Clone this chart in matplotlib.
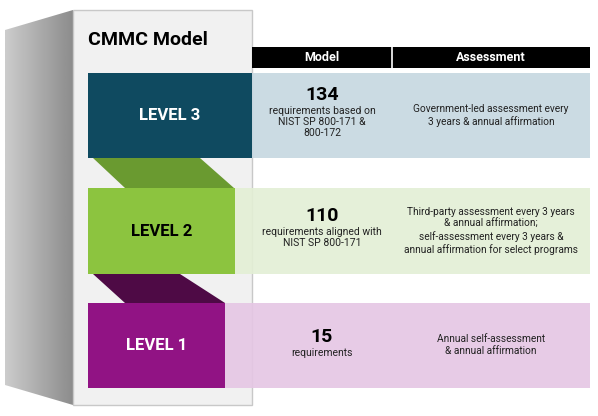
import matplotlib
matplotlib.use("Agg")
import matplotlib.pyplot as plt
from matplotlib.patches import Polygon, Rectangle
import numpy as np

levels = ["LEVEL 3", "LEVEL 2", "LEVEL 1"]
counts = ["134", "110", "15"]
model_desc = ["requirements based on\nNIST SP 800-171 &\n800-172",
              "requirements aligned with\nNIST SP 800-171",
              "requirements"]
assess_desc = ["Government-led assessment every\n3 years & annual affirmation",
               "Third-party assessment every 3 years\n& annual affirmation;\nself-assessment every 3 years &\nannual affirmation for select programs",
               "Annual self-assessment\n& annual affirmation"]
headers = ["Model", "Assessment"]
title = "CMMC Model"

box_colors = ["#0f4a60", "#8cc43f", "#911384"]
band_colors = ["#c6d7e0", "#e3efd5", "#e5c6e4"]
level_text = ["white", "black", "white"]
rows = [(73, 158, 252), (188, 274, 235), (303, 388, 225)]
connectors = [("#6a9a30", 158, 188, 93, 200, 125, 234),
              ("#4e0a45", 274, 303, 93, 180, 125, 225)]

FONT = ["Roboto", "DejaVu Sans"]

fig = plt.figure(figsize=(5.98, 4.16), dpi=100)
ax = fig.add_axes([0, 0, 1, 1])
ax.set_xlim(0, 598); ax.set_ylim(416, 0); ax.axis("off")

grad = np.linspace(0.80, 0.55, 100)[None, :]
im = ax.imshow(grad, cmap="gray", vmin=0, vmax=1, extent=[5, 73, 405, 10], aspect="auto", zorder=1)
side = Polygon([(5, 30), (73, 10), (73, 405), (5, 385)], closed=True, transform=ax.transData)
im.set_clip_path(side)
ax.add_patch(Rectangle((73, 10), 179, 395, facecolor="#f1f1f1", edgecolor="#c8c8c8", lw=1, zorder=2))
ax.text(88, 40, title, fontsize=14, fontweight="bold", family=FONT, va="center", ha="left", zorder=5)

ax.add_patch(Rectangle((252, 47), 338, 21, facecolor="black", zorder=3))
ax.plot([392, 392], [47, 68], color="white", lw=1.2, zorder=4)
ax.text(322, 57.5, headers[0], color="white", fontsize=9, fontweight="bold", family=FONT, ha="center", va="center", zorder=5)
ax.text(491, 57.5, headers[1], color="white", fontsize=9, fontweight="bold", family=FONT, ha="center", va="center", zorder=5)

for c, y0, y1, tl, tr, bl, br in connectors:
    ax.add_patch(Polygon([(tl, y0), (tr, y0), (br, y1), (bl, y1)], facecolor=c, zorder=3))

for i, (y0, y1, xe) in enumerate(rows):
    ax.add_patch(Rectangle((xe, y0), 590 - xe, y1 - y0, facecolor=band_colors[i], alpha=0.9, zorder=3))
    ax.add_patch(Rectangle((88, y0), xe - 88, y1 - y0, facecolor=box_colors[i], zorder=4))
    ym = (y0 + y1) / 2
    ax.text((88 + xe) / 2, ym, levels[i], color=level_text[i], fontsize=12, fontweight="bold",
            family=FONT, ha="center", va="center", zorder=5)
    nlines = model_desc[i].count("\n") + 1
    ax.text(322, ym - 6 * nlines - 3, counts[i], fontsize=14, fontweight="bold", family=FONT,
            ha="center", va="center", zorder=5)
    ax.text(322, ym - 6 * nlines + 8, model_desc[i], fontsize=7.5, family=FONT, ha="center", va="top",
            linespacing=1.15, color="#222222", zorder=5)
    ax.text(491, ym, assess_desc[i], fontsize=7.3, family=FONT, ha="center", va="center",
            linespacing=1.25, color="#222222", zorder=5)

fig.savefig("out.png", dpi=100)
